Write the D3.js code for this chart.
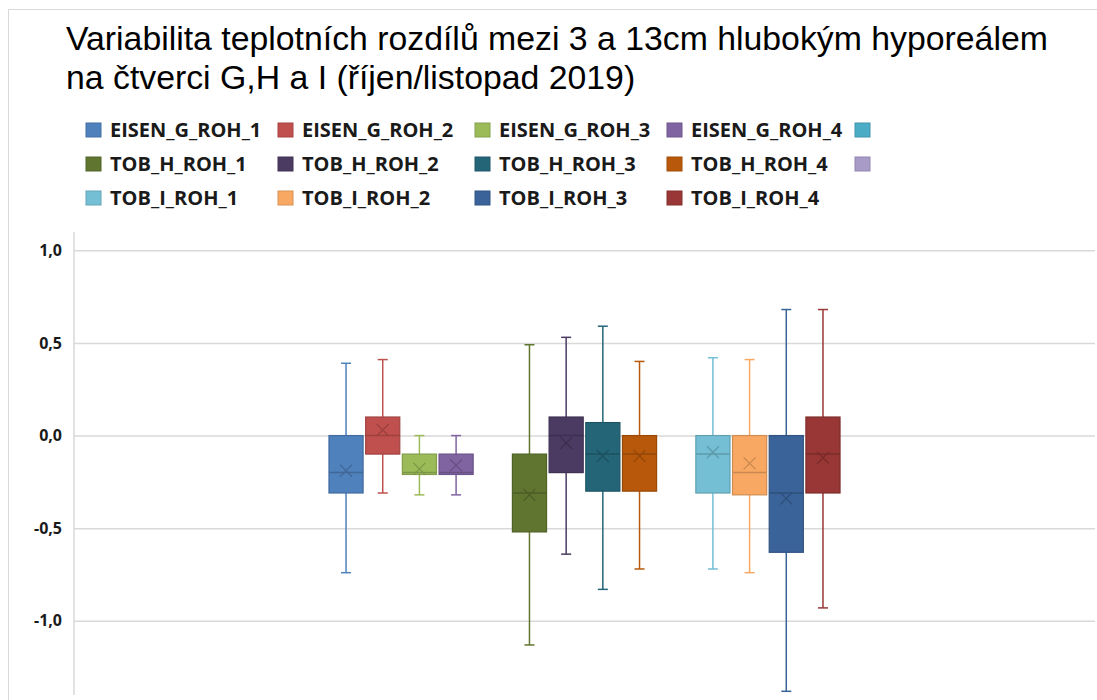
<!DOCTYPE html>
<html lang="cs">
<head>
<meta charset="UTF-8">
<title>Variabilita teplotních rozdílů</title>
<script src="https://cdn.jsdelivr.net/npm/d3@7"></script>
<style>
  body { margin: 0; background: #fff; }
</style>
</head>
<body>
<script>

var width = 1097,
    height = 700

// series (two unlabeled series keep their slot in the chart)
var seriesNames = ["EISEN_G_ROH_1", "EISEN_G_ROH_2", "EISEN_G_ROH_3", "EISEN_G_ROH_4", "",
                   "TOB_H_ROH_1", "TOB_H_ROH_2", "TOB_H_ROH_3", "TOB_H_ROH_4", "",
                   "TOB_I_ROH_1", "TOB_I_ROH_2", "TOB_I_ROH_3", "TOB_I_ROH_4"]
var seriesColors = ["#4F81BD", "#C0504D", "#9BBB59", "#8064A2", "#4BACC6",
                    "#5F7530", "#4B3A62", "#246678", "#B8580A", "#A99BC7",
                    "#74BFD4", "#F8A862", "#3A6399", "#983735"]

var whiskerLow  = [-0.74, -0.31, -0.32, -0.32, null, -1.13, -0.64, -0.83, -0.72, null, -0.72, -0.74, -1.38, -0.93]
var q1          = [-0.31, -0.10, -0.21, -0.21, null, -0.52, -0.20, -0.30, -0.30, null, -0.31, -0.32, -0.63, -0.31]
var median      = [-0.20,  0.00, -0.20, -0.20, null, -0.31,  0.00, -0.10, -0.10, null, -0.10, -0.20, -0.31, -0.10]
var q3          = [ 0.00,  0.10, -0.10, -0.10, null, -0.10,  0.10,  0.07,  0.00, null,  0.00,  0.00,  0.00,  0.10]
var whiskerHigh = [ 0.39,  0.41,  0.00,  0.00, null,  0.49,  0.53,  0.59,  0.40, null,  0.42,  0.41,  0.68,  0.68]
var mean        = [-0.19,  0.03, -0.18, -0.16, null, -0.32, -0.04, -0.11, -0.11, null, -0.09, -0.15, -0.34, -0.12]

var yTicks = [-1.0, -0.5, 0.0, 0.5, 1.0]

var titleLines = ["Variabilita teplotních rozdílů mezi 3 a 13cm hlubokým hyporeálem",
                  "na čtverci G,H a I (říjen/listopad 2019)"]

var svg = d3.select("body").append("svg")
    .attr("width", width)
    .attr("height", height)
    .style("font-family", "'Liberation Sans', Arial, sans-serif")

// chart frame
svg.append("path")
    .attr("d", "M8.5," + height + "V9.5H" + width)
    .attr("fill", "none")
    .attr("stroke", "#d9d9d9")

// title
svg.append("text")
    .attr("x", 66)
    .attr("y", 50)
    .attr("font-size", 33.8)
    .attr("fill", "#000")
    .selectAll("tspan").data(titleLines).enter()
    .append("tspan")
    .attr("x", 66)
    .attr("dy", function(d, i){ return i ? 39 : 0 })
    .text(function(d){ return d })

// legend: 5 columns, 3 rows
var legendX = [86, 278, 475, 667, 855]
var legendY = [130, 164, 198]
var legend = svg.append("g")
    .style("font-family", "'Open Sans', sans-serif")
    .style("font-weight", "bold")
    .style("font-size", "20px")
    .selectAll("g").data(seriesNames).enter()
    .append("g")
    .attr("transform", function(d, i){
        return "translate(" + legendX[i % 5] + "," + legendY[Math.floor(i / 5)] + ")" })

legend.append("rect")
    .attr("x", 0).attr("y", -7)
    .attr("width", 15).attr("height", 14)
    .attr("fill", function(d, i){ return seriesColors[i] })
    .attr("stroke", function(d, i){ return d3.color(seriesColors[i]).darker(0.4) })

legend.append("text")
    .attr("x", 24)
    .attr("y", 7)
    .attr("fill", "#1a1a1a")
    .text(function(d){ return d })

// plot area
var plotLeft = 74, plotRight = 1095, plotTop = 231.7, plotBottom = 695

var y = d3.scaleLinear().domain([-1.4, 1.1]).range([plotBottom, plotTop])

var x = d3.scaleBand()
    .domain(d3.range(seriesNames.length))
    .range([plotLeft, plotRight])
    .paddingInner(0.07)
    .paddingOuter(6.95)

var yAxis = svg.append("g")
    .attr("transform", "translate(" + plotLeft + ",0)")
    .call(d3.axisLeft(y)
        .tickValues(yTicks)
        .tickSize(-(plotRight - plotLeft))
        .tickPadding(12)
        .tickFormat(function(d){ return d3.format(".1f")(d).replace(".", ",").replace("−", "-") }))

yAxis.select(".domain").remove()
yAxis.selectAll(".tick line")
    .attr("stroke", "#d9d9d9")
    .attr("stroke-width", 1.5)
yAxis.selectAll(".tick text")
    .attr("fill", "#1a1a1a")
    .style("font-family", "'Open Sans', sans-serif")
    .style("font-weight", "bold")
    .style("font-size", "16px")

svg.append("line")
    .attr("x1", plotLeft).attr("x2", plotLeft)
    .attr("y1", plotTop).attr("y2", plotBottom)
    .attr("stroke", "#d9d9d9")
    .attr("stroke-width", 1.5)

// boxes
var idx = d3.range(seriesNames.length).filter(function(i){ return q1[i] !== null })
var bw = x.bandwidth()
var capW = 10

var box = svg.append("g").selectAll("g").data(idx).enter()
    .append("g")
    .attr("transform", function(i){ return "translate(" + (x(i) + bw / 2) + ",0)" })

box.append("line")
    .attr("y1", function(i){ return y(whiskerHigh[i]) })
    .attr("y2", function(i){ return y(whiskerLow[i]) })
    .attr("stroke", function(i){ return seriesColors[i] })
    .attr("stroke-width", 1.5)

box.selectAll(".cap")
    .data(function(i){ return [[i, whiskerHigh[i]], [i, whiskerLow[i]]] })
    .enter().append("line")
    .attr("x1", -capW / 2).attr("x2", capW / 2)
    .attr("y1", function(d){ return y(d[1]) })
    .attr("y2", function(d){ return y(d[1]) })
    .attr("stroke", function(d){ return seriesColors[d[0]] })
    .attr("stroke-width", 1.5)

box.append("rect")
    .attr("x", -bw / 2)
    .attr("width", bw)
    .attr("y", function(i){ return y(q3[i]) })
    .attr("height", function(i){ return y(q1[i]) - y(q3[i]) })
    .attr("fill", function(i){ return seriesColors[i] })
    .attr("stroke", function(i){ return d3.color(seriesColors[i]).darker(0.5) })
    .attr("stroke-width", 1.2)

box.append("line")
    .attr("x1", -bw / 2).attr("x2", bw / 2)
    .attr("y1", function(i){ return y(median[i]) })
    .attr("y2", function(i){ return y(median[i]) })
    .attr("stroke", function(i){ return d3.color(seriesColors[i]).darker(0.6) })
    .attr("stroke-width", 1.5)

// mean marker
box.append("path")
    .attr("d", function(i){
        var cy = y(mean[i]), s = 6
        return "M" + (-s) + "," + (cy - s) + "L" + s + "," + (cy + s) +
               "M" + (-s) + "," + (cy + s) + "L" + s + "," + (cy - s) })
    .attr("stroke", function(i){ return d3.color(seriesColors[i]).darker(0.6) })
    .attr("stroke-width", 1.3)
    .attr("fill", "none")

</script>
</body>
</html>
